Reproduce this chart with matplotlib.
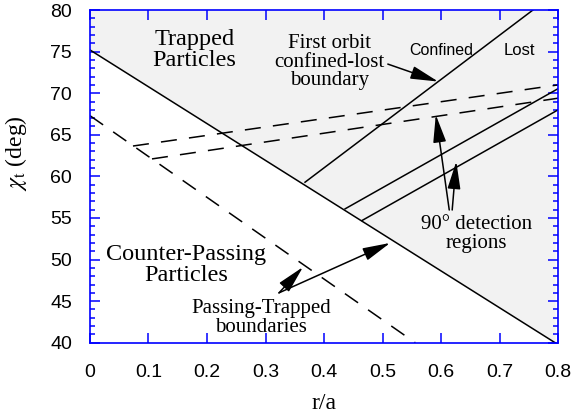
import numpy as np
import matplotlib
matplotlib.use('Agg')
from matplotlib import pyplot as plt

plt.rcParams['font.family'] = 'Liberation Sans'
plt.rcParams['mathtext.fontset'] = 'stix'

# passing-trapped boundary (solid) and the two dashed ones
pt_x = [0.0, 0.795]
pt_y = [75.2, 40.0]
steep_x = [0.0, 0.556]
steep_y = [67.3, 40.0]
dash_up_x = [0.0735, 0.8]
dash_up_y = [63.65, 71.0]
dash_lo_x = [0.106, 0.8]
dash_lo_y = [62.1, 69.4]

# first orbit confined-lost boundary
orbit_x = [0.3675, 0.757]
orbit_y = [59.3, 80.0]

# 90 deg detection regions
det1_x = [0.436, 0.8]
det1_y = [56.1, 70.55]
det2_x = [0.465, 0.8]
det2_y = [54.7, 68.0]

xticks = [0, 0.1, 0.2, 0.3, 0.4, 0.5, 0.6, 0.7, 0.8]
xticklabels = ['0', '0.1', '0.2', '0.3', '0.4', '0.5', '0.6', '0.7', '0.8']
yticks = [40, 45, 50, 55, 60, 65, 70, 75, 80]

fig = plt.figure(figsize=(5.73, 4.17), dpi=100)
ax = fig.add_axes([0.157, 0.178, 0.817, 0.798])

xf = np.array(pt_x)
ax.fill_between(xf, np.array(pt_y), 80, color='#f2f2f2', lw=0, zorder=0)

lw = 1.1
ax.plot(pt_x, pt_y, color='black', lw=lw)
for xs, ys in [(steep_x, steep_y), (dash_up_x, dash_up_y), (dash_lo_x, dash_lo_y)]:
    ax.plot(xs, ys, color='black', lw=lw, dashes=(10.5, 8))
ax.plot(orbit_x, orbit_y, color='black', lw=lw)
ax.plot(det1_x, det1_y, color='black', lw=lw)
ax.plot(det2_x, det2_y, color='black', lw=lw)

serif = 'Liberation Serif'
ax.text(0.179, 75.2, 'Trapped\nParticles', family=serif, fontsize=17.5,
        ha='center', va='center', linespacing=1.0)
ax.text(0.165, 49.4, 'Counter-Passing\nParticles', family=serif, fontsize=17.5,
        ha='center', va='center', linespacing=1.0)
ax.text(0.409, 73.75, 'First orbit\nconfined-lost\nboundary', family=serif,
        fontsize=15, ha='center', va='center', linespacing=0.95)
ax.text(0.293, 43.0, 'Passing-Trapped\nboundaries', family=serif, fontsize=15,
        ha='center', va='center', linespacing=1.0)
ax.text(0.66, 53.1, '90° detection\nregions', family=serif, fontsize=15,
        ha='center', va='center', linespacing=1.0)
ax.text(0.600, 75.1, 'Confined', fontsize=11.5, ha='center', va='center')
ax.text(0.733, 75.1, 'Lost', fontsize=12, ha='center', va='center')

aprops = dict(arrowstyle='-|>,head_length=1.7,head_width=0.4', color='black',
              lw=1.1, mutation_scale=10, shrinkA=0, shrinkB=0)
arrows = [((0.509, 73.5), (0.595, 71.4)),
          ((0.614, 55.96), (0.591, 67.4)),
          ((0.619, 55.96), (0.626, 61.8)),
          ((0.323, 46.0), (0.364, 49.1)),
          ((0.323, 46.0), (0.513, 52.0))]
for tail, head in arrows:
    ax.annotate('', xy=head, xytext=tail, arrowprops=aprops)

ax.set_xlim(0, 0.8)
ax.set_ylim(40, 80)
ax.set_xticks(xticks)
ax.set_xticklabels(xticklabels)
ax.set_yticks(yticks)
ax.set_yticks(np.arange(40, 81, 1), minor=True)
ax.tick_params(axis='both', which='both', direction='in', color='blue',
               width=1.1, labelsize=14, top=True, right=True)
ax.tick_params(axis='both', which='major', length=7.5)
ax.tick_params(axis='y', which='minor', length=3.8)
ax.tick_params(axis='x', which='minor', bottom=False, top=False)
ax.tick_params(axis='x', pad=15.5)
ax.tick_params(axis='y', pad=13)
for s in ax.spines.values():
    s.set_color('blue')
    s.set_linewidth(1.2)

ax.set_xlabel('r/a', family=serif, fontsize=17)
ax.set_ylabel(r'$\chi_{\mathrm{t}}$ (deg)', family=serif, fontsize=17)
ax.xaxis.set_label_coords(0.5, -0.151)
ax.yaxis.set_label_coords(-0.130, 0.57)

fig.savefig('out.png', dpi=100)
